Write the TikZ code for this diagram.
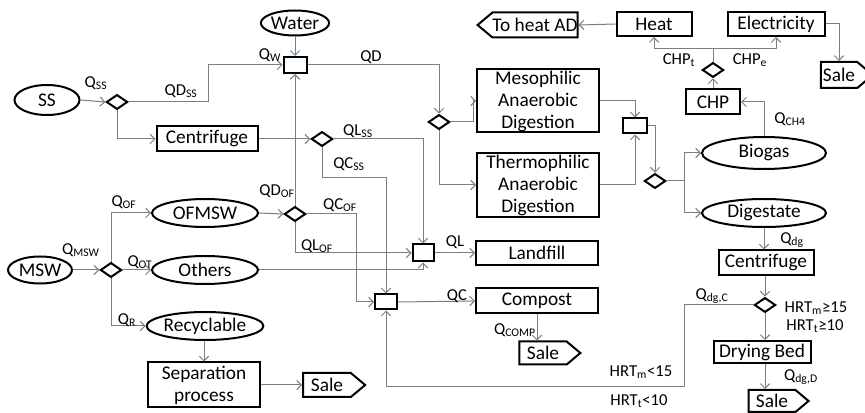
\documentclass[tikz,border=0pt]{standalone}
\usepackage{fontspec}
\setmainfont{Carlito}
\usetikzlibrary{shapes.geometric,shapes.symbols,arrows.meta,calc}
\definecolor{linegray}{RGB}{125,125,125}
\definecolor{waterblue}{RGB}{90,130,175}
\tikzset{
  sz/.style 2 args={minimum width=#1*0.75pt, minimum height=#2*0.75pt},
  conn/.style={draw=linegray, line width=0.75pt, -{Straight Barb[length=3.5pt,width=7pt]}},
  plain/.style={draw=linegray, line width=0.75pt},
  box/.style={draw, line width=1.5pt, inner sep=0pt, align=center, font=\fontsize{14.5}{16.5}\selectfont},
  oval/.style={ellipse, draw, line width=1.5pt, inner sep=0pt, font=\fontsize{14.5}{16.5}\selectfont},
  dia/.style={diamond, draw, line width=1.5pt, inner sep=0pt, minimum width=16pt, minimum height=11pt},
  mix/.style={draw, line width=1.5pt, inner sep=0pt},
  saleR/.style={signal, signal to=east, signal pointer angle=80, draw, line width=1.5pt, inner sep=0pt, font=\fontsize{14.5}{16.5}\selectfont},
  saleL/.style={signal, signal to=west, signal pointer angle=80, draw, line width=1.5pt, inner sep=0pt, font=\fontsize{14.5}{16.5}\selectfont},
  lbl/.style={inner sep=0pt, font=\fontsize{12.5}{14}\selectfont}
}
\begin{document}
\begin{tikzpicture}[x=0.75pt,y=-0.75pt]
\useasboundingbox (0,0) rectangle (865,413);
% nodes
\node[oval, sz={64}{25}] (water) at (295,23) {Water};
\node[mix, sz={23}{16}] (m1) at (295,65) {};
\node[oval, sz={65}{30}] (ss) at (47,100) {SS};
\node[dia] (d1) at (117,102) {};
\node[box, sz={101}{25}] (cen1) at (207,139) {Centrifuge};
\node[dia] (d2) at (322,139) {};
\node[dia] (d3) at (439,122) {};
\node[box, sz={122}{63}] (meso) at (538,101) {Mesophilic\\Anaerobic\\Digestion};
\node[box, sz={122}{64}] (thermo) at (538,185) {Thermophilic\\Anaerobic\\Digestion};
\node[mix, sz={24}{15}] (m2) at (635,126) {};
\node[dia] (d4) at (655,181) {};
\node[oval, sz={124}{32}] (biogas) at (764,153) {Biogas};
\node[oval, sz={124}{28}] (digest) at (764,213) {Digestate};
\node[box, sz={54}{25}] (chp) at (713,102) {CHP};
\node[dia] (d5) at (713,70) {};
\node[box, sz={75}{24}] (heat) at (654,24) {Heat};
\node[box, sz={97}{24}] (elec) at (776,24) {Electricity};
\node[saleL, sz={96}{25}] (toheat) at (535,25) {To heat AD};
\node[saleR, sz={52}{26}] (sale1) at (839,75) {Sale};
\node[box, sz={95}{25}] (cen2) at (766,263) {Centrifuge};
\node[dia] (d6) at (765,305) {};
\node[box, sz={97}{22}] (dry) at (762,352) {Drying Bed};
\node[saleR, sz={60}{22}] (sale4) at (772,401) {Sale};
\node[mix, sz={22}{15}] (m4) at (386,302) {};
\node[box, sz={122}{25}] (compost) at (537,301) {Compost};
\node[saleR, sz={61}{23}] (sale3) at (543,353) {Sale};
\node[mix, sz={21}{17}] (m3) at (423,253) {};
\node[box, sz={122}{24}] (landfill) at (537,253) {Landfill};
\node[oval, sz={106}{28}] (ofmsw) at (205,213) {OFMSW};
\node[dia] (d7) at (295,214) {};
\node[oval, sz={64}{27}] (msw) at (40,270) {MSW};
\node[dia] (d8) at (111,270) {};
\node[oval, sz={106}{28}] (others) at (205,270) {Others};
\node[oval, sz={106}{28}] (recyc) at (205,326) {Recyclable};
\node[box, sz={112}{45}] (sep) at (204,385) {Separation\\process};
\node[saleR, sz={62}{24}] (sale2) at (327,385) {Sale};
% connectors
\draw[conn, draw=waterblue] (water.south) -- (m1.north);
\draw[conn] (ss.east) -- (d1.west);
\draw[conn] (d1.east) -- ++(80,0) |- (m1.west);
\draw[conn] (d1.south) |- (cen1.west);
\draw[conn] (cen1.east) -- (d2.west);
\draw[conn] (d2.east) -| (m3.north);
\draw[conn] (d2.south) -- ++(0,30) -| (m4.north);
\draw[conn] (m1.east) -| (d3.north);
\draw[conn] (d3.east) -- ++(23,0) |- (meso.west);
\draw[conn] (d3.south) |- (thermo.west);
\draw[conn] (meso.east) -| (m2.north);
\draw[conn] (thermo.east) -| (m2.south);
\draw[conn] (m2.east) -| (d4.north);
\draw[plain] (d4.east) -- ++(18,0) coordinate (bj);
\draw[conn] (bj) |- (biogas.west);
\draw[conn] (bj) |- (digest.west);
\draw[conn] (biogas.north) |- (chp.east);
\draw[conn] (chp.north) -- (d5.south);
\draw[plain] (d5.north) -- ++(0,-13) coordinate (cj);
\draw[conn] (cj) -| (heat.south);
\draw[conn] (cj) -| (elec.south);
\draw[conn] (heat.west) -- (toheat.east);
\draw[conn] (elec.east) -| (sale1.north);
\draw[conn] (digest.south) -- (digest.south |- cen2.north);
\draw[conn] (cen2.south -| d6.north) -- (d6.north);
\draw[conn] (d6.south) -- (d6.south |- dry.north);
\draw[conn] (dry.south -| d6.south) -- (d6.south |- sale4.north);
\draw[conn] (d6.west) -- ++(-69,0) -- ++(0,82) -| (m4.south);
\draw[conn] (m4.east) -- (compost.west);
\draw[conn] (compost.south) -- (compost.south |- sale3.north);
\draw[conn] (m3.east) -- (landfill.west);
\draw[conn] (ofmsw.east) -- (d7.west);
\draw[conn] (d7.north) -- (m1.south);
\draw[conn] (d7.east) -- ++(50,0) |- (m4.west);
\draw[conn] (d7.south) |- (m3.west);
\draw[conn] (msw.east) -- (d8.west);
\draw[conn] (d8.north) |- (ofmsw.west);
\draw[conn] (d8.east) -- (others.west);
\draw[conn] (d8.south) |- (recyc.west);
\draw[conn] (others.east) -| (m3.south);
\draw[conn] (recyc.south -| sep.north) -- (sep.north);
\draw[conn] (sep.east) -- (sale2.west);
% labels
\node[lbl] (lqw) at (270,55) {Q\textsubscript{W}};
\node[lbl] (lqss) at (96,83) {Q\textsubscript{SS}};
\node[lbl] (lqdss) at (181,91) {QD\textsubscript{SS}};
\node[lbl] (lqd) at (371,57) {QD};
\node[lbl] (lqlss) at (358,131) {QL\textsubscript{SS}};
\node[lbl] (lqcss) at (349,164) {QC\textsubscript{SS}};
\node[lbl] (lqdof) at (277,191) {QD\textsubscript{OF}};
\node[lbl] (lqcof) at (340,205) {QC\textsubscript{OF}};
\node[lbl] (lqlof) at (317,246) {QL\textsubscript{OF}};
\node[lbl] (lql) at (455,242) {QL};
\node[lbl] (lqc) at (457,296) {QC};
\node[lbl] (lqcomp) at (515,330) {Q\textsubscript{COMP}};
\node[lbl] (lqof) at (124,202) {Q\textsubscript{OF}};
\node[lbl] (lqmsw) at (81,250) {Q\textsubscript{MSW}};
\node[lbl] (lqot) at (140,262) {Q\textsubscript{OT}};
\node[lbl] (lqr) at (127,320) {Q\textsubscript{R}};
\node[lbl] (lqch4) at (790,119) {Q\textsubscript{CH4}};
\node[lbl] (lchpt) at (679,60) {CHP\textsubscript{t}};
\node[lbl] (lchpe) at (750,60) {CHP\textsubscript{e}};
\node[lbl] (lqdg) at (792,240) {Q\textsubscript{dg}};
\node[lbl] (lqdgc) at (712,296) {Q\textsubscript{dg,C}};
\node[lbl] (lhrtm1) at (816,308) {HRT\textsubscript{m}≥15};
\node[lbl] (lhrtt1) at (815,326) {HRT\textsubscript{t}≥10};
\node[lbl] (lhrtm2) at (641,372) {HRT\textsubscript{m}<15};
\node[lbl] (lhrtt2) at (639,401) {HRT\textsubscript{t}<10};
\node[lbl] (lqdgd) at (801,377) {Q\textsubscript{dg,D}};
\end{tikzpicture}
\end{document}
